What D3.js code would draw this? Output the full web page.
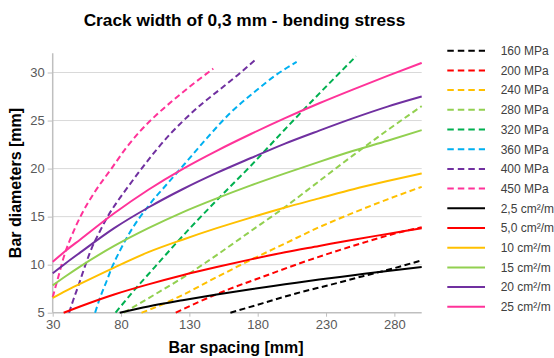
<!DOCTYPE html>
<html><head><meta charset="utf-8">
<script src="https://cdn.jsdelivr.net/npm/d3@7"></script>
<style>body{margin:0;background:#fff}svg{display:block}</style>
</head><body>
<svg id="c" width="554" height="358"></svg>
<script>
// ---- data ----
const xTicks = [30, 80, 130, 180, 230, 280];
const yTicks = [5, 10, 15, 20, 25, 30];

const stressLabels = ["160 MPa","200 MPa","240 MPa","280 MPa","320 MPa","360 MPa","400 MPa","450 MPa"];
const stressColors = ["#000000","#ff0000","#ffc000","#92d050","#00b050","#00b0f0","#7030a0","#ff3399"];
const p160x = [160,184,208,233,257,279,300];
const p160y = [5,6.0,7.0,7.9,8.8,9.6,10.45];
const p200x = [120,135,160,184,208,233,260,282,300];
const p200y = [5,6.0,7.5,8.75,10.0,11.2,12.4,13.3,13.9];
const p240x = [95,110,123,150,175,200,225,250,275,300];
const p240y = [5,5.85,6.7,8.7,10.5,12.2,13.9,15.4,16.8,18.1];
const p280x = [82,100,128,150,175,200,225,250,275,300];
const p280y = [5,6.5,8.9,11.0,13.5,16.0,18.7,21.4,24.0,26.5];
const p320x = [76,91.5,100,110,122,150,175,200,225,252];
const p320y = [5,7.65,9.0,10.6,12.5,16.7,20.3,24.1,27.8,31.7];
const p360x = [61,65,69.5,73,79,85,92.6,99,105,110,126,143,160,177,194,208.5];
const p360y = [5,6.7,8.3,9.6,11.4,13.0,14.7,15.9,17.0,17.8,20.4,23.2,25.8,27.9,29.8,31.1];
const p400x = [42,45,49,54,58.5,65,71,77,82,94,105,116,125,138,152,165,178];
const p400y = [5,6.3,7.9,10,11.7,13.6,15.2,16.5,17.5,19.8,21.8,23.6,24.9,26.6,28.2,29.7,31.3];
const p450x = [30,35,39,43,51,60,73,84,94,106,118,130,147.5];
const p450y = [6.6,9.2,11.2,12.7,15.2,17.4,20.0,22.2,23.9,25.6,27.1,28.5,30.4];

const areaLabels = ["2,5 cm²/m","5,0 cm²/m","10 cm²/m","15 cm²/m","20 cm²/m","25 cm²/m"];
const areaColors = ["#000000","#ff0000","#ffc000","#92d050","#7030a0","#ff3399"];
const a2x = [79,100,125,150,175,200,225,250,275,300];
const a2y = [5.0,5.65,6.3,6.9,7.45,7.95,8.45,8.9,9.35,9.75];
const a5x = [38,50,75,100,125,150,175,200,225,250,275,300];
const a5y = [5.0,5.65,6.9,7.95,8.9,9.75,10.55,11.3,11.95,12.6,13.2,13.8];
const aX = [30,40,50,75,100,125,150,175,200,225,250,275,300];
const a10y = [6.55,7.3,8.0,9.7,11.3,12.6,13.8,14.9,15.95,16.9,17.85,18.7,19.5];
const a15y = [7.85,8.85,9.8,11.95,13.8,15.45,16.9,18.25,19.5,20.7,21.85,22.9,24.0];
const a20y = [9.1,10.2,11.25,13.8,15.95,17.85,19.55,21.1,22.6,23.95,25.25,26.45,27.5];
const a25y = [10.3,11.5,12.6,15.35,17.8,19.95,21.85,23.6,25.25,26.8,28.25,29.65,31.0];

// ---- build ----
const zip = (xs, ys) => xs.map((x, i) => [x, ys[i]]);
const stressData = [zip(p160x,p160y),zip(p200x,p200y),zip(p240x,p240y),zip(p280x,p280y),
                    zip(p320x,p320y),zip(p360x,p360y),zip(p400x,p400y),zip(p450x,p450y)];
const areaData = [zip(a2x,a2y),zip(a5x,a5y),zip(aX,a10y),zip(aX,a15y),zip(aX,a20y),zip(aX,a25y)];

const svg = d3.select("#c");
const L = 52.7, R = 421.7, T = 53.3, B = 312.7;
const x = d3.scaleLinear().domain([30, 300]).range([L, R]);
const y = d3.scaleLinear().domain([5, 32]).range([B, T]);
const FONT = "'Liberation Sans', Arial, sans-serif";

// title
svg.append("text").attr("x", 244.5).attr("y", 26).attr("text-anchor", "middle")
  .attr("font-family", FONT).attr("font-weight", "bold").attr("font-size", 17.3)
  .attr("fill", "#000").text("Crack width of 0,3 mm - bending stress");

// gridlines
svg.append("g").selectAll("line").data(yTicks.filter(d => d > 5)).join("line")
  .attr("x1", L).attr("x2", R).attr("y1", d => y(d)).attr("y2", d => y(d))
  .attr("stroke", "#d9d9d9").attr("stroke-width", 1);

// axes
const yAxis = svg.append("g").attr("transform", `translate(${L},0)`)
  .call(d3.axisLeft(y).tickValues(yTicks).tickSize(5).tickPadding(3));
const xAxis = svg.append("g").attr("transform", `translate(0,${B})`)
  .call(d3.axisBottom(x).tickValues(xTicks).tickSize(4).tickPadding(3));
[yAxis, xAxis].forEach(g => {
  g.select(".domain").attr("stroke", "#bfbfbf").attr("stroke-width", 1.5);
  g.selectAll(".tick line").attr("stroke", "#bfbfbf");
  g.selectAll(".tick text").attr("font-family", FONT).attr("font-size", 13).attr("fill", "#595959");
});
xAxis.select(".domain").attr("d", `M${L},0H${R}`);
yAxis.select(".domain").attr("d", `M0,${B}V${T}`);

// axis titles
svg.append("text").attr("x", 236).attr("y", 353).attr("text-anchor", "middle")
  .attr("font-family", FONT).attr("font-weight", "bold").attr("font-size", 16)
  .text("Bar spacing [mm]");
svg.append("text").attr("transform", `translate(21,${(T + B) / 2}) rotate(-90)`)
  .attr("text-anchor", "middle").attr("font-family", FONT).attr("font-weight", "bold")
  .attr("font-size", 16).text("Bar diameters [mm]");

// lines
const line = d3.line().x(d => x(d[0])).y(d => y(d[1])).curve(d3.curveMonotoneX);
const plot = svg.append("g");
stressData.forEach((d, i) => {
  plot.append("path").attr("d", line(d)).attr("fill", "none")
    .attr("stroke", stressColors[i]).attr("stroke-width", 2).attr("stroke-dasharray", "6,3.5");
});
areaData.forEach((d, i) => {
  plot.append("path").attr("d", line(d)).attr("fill", "none")
    .attr("stroke", areaColors[i]).attr("stroke-width", 2);
});

// legend
const legItems = stressLabels.map((l, i) => ({l, c: stressColors[i], dash: true}))
  .concat(areaLabels.map((l, i) => ({l, c: areaColors[i], dash: false})));
const lg = svg.append("g");
legItems.forEach((it, i) => {
  const yy = 50.7 + i * 19.7;
  lg.append("line").attr("x1", 447.3).attr("x2", 485).attr("y1", yy).attr("y2", yy)
    .attr("stroke", it.c).attr("stroke-width", 2)
    .attr("stroke-dasharray", it.dash ? "6.5,4" : null);
  lg.append("text").attr("x", 500.7).attr("y", yy + 4.3)
    .attr("font-family", FONT).attr("font-size", 12).attr("fill", "#404040").text(it.l);
});
</script>
</body></html>
